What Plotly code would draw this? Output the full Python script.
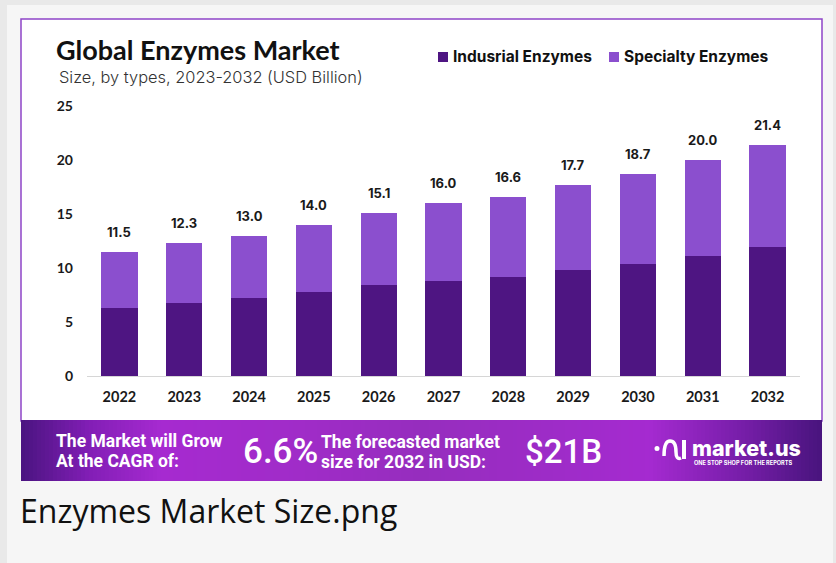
import plotly.graph_objects as go

# ---------------- data ----------------
years = ["2022", "2023", "2024", "2025", "2026", "2027", "2028", "2029", "2030", "2031", "2032"]
industrial = [6.3, 6.8, 7.2, 7.8, 8.4, 8.8, 9.2, 9.8, 10.4, 11.1, 11.9]
specialty = [5.2, 5.5, 5.8, 6.2, 6.7, 7.2, 7.4, 7.9, 8.3, 8.9, 9.5]
totals = [11.5, 12.3, 13.0, 14.0, 15.1, 16.0, 16.6, 17.7, 18.7, 20.0, 21.4]
y_ticks = [0, 5, 10, 15, 20, 25]
series_names = ["Indusrial Enzymes", "Specialty Enzymes"]
title_text = "Global Enzymes Market"
subtitle_text = "Size, by types, 2023-2032 (USD Billion)"
cagr_text = "6.6%"
forecast_text = "$21B"
caption_text = "Enzymes Market Size.png"

# ---------------- style ----------------
C_IND = "#4e1582"
C_SPE = "#8b4fce"
W, H = 836, 563
L, R, T, B = 87, 36, 106, 187
PW, PH = W - L - R, H - T - B
Y0 = H - B


def px(x):
    return (x - L) / PW


def py(y):
    return (Y0 - y) / PH


fig = go.Figure()
fig.add_trace(go.Bar(x=years, y=industrial, name=series_names[0], marker=dict(color=C_IND, line=dict(width=0)),
                     showlegend=False, hoverinfo="x+y+name"))
fig.add_trace(go.Bar(x=years, y=specialty, name=series_names[1], marker=dict(color=C_SPE, line=dict(width=0)),
                     showlegend=False, hoverinfo="x+y+name"))

shapes = []
annotations = []

# outer frame and card
shapes.append(dict(type="rect", xref="paper", yref="paper", x0=px(0), x1=px(7), y0=py(H), y1=py(0),
                   fillcolor="#e9e9e9", line=dict(width=0), layer="below"))
shapes.append(dict(type="rect", xref="paper", yref="paper", x0=px(0), x1=px(W), y0=py(5), y1=py(0),
                   fillcolor="#e9e9e9", line=dict(width=0), layer="below"))
shapes.append(dict(type="rect", xref="paper", yref="paper", x0=px(833), x1=px(W), y0=py(H), y1=py(0),
                   fillcolor="#e9e9e9", line=dict(width=0), layer="below"))
shapes.append(dict(type="rect", xref="paper", yref="paper", x0=px(21), x1=px(822), y0=py(421), y1=py(19),
                   fillcolor="white", line=dict(color="#8e44c8", width=1.5), layer="below"))

# banner gradient
stops = [(21, (74, 20, 128)), (90, (130, 30, 182)), (160, (166, 42, 208)), (300, (160, 44, 200)),
         (420, (150, 45, 190)), (560, (158, 44, 200)), (650, (165, 42, 208)), (740, (120, 30, 170)),
         (822, (72, 20, 125))]


def grad(x):
    for (xa, ca), (xb, cb) in zip(stops[:-1], stops[1:]):
        if xa <= x <= xb:
            t = (x - xa) / (xb - xa)
            return "rgb(%d,%d,%d)" % tuple(round(a + (b - a) * t) for a, b in zip(ca, cb))
    return "rgb(%d,%d,%d)" % stops[-1][1]


step = 4
x = 21
while x < 822:
    x2 = min(x + step, 822)
    shapes.append(dict(type="rect", xref="paper", yref="paper", x0=px(x), x1=px(min(x2 + 0.6, 822)),
                       y0=py(481), y1=py(420),
                       fillcolor=grad(x + step / 2), line=dict(width=0), layer="above"))
    x = x2

# legend squares
shapes.append(dict(type="rect", xref="paper", yref="paper", x0=px(438), x1=px(448), y0=py(62), y1=py(52),
                   fillcolor=C_IND, line=dict(width=0)))
shapes.append(dict(type="rect", xref="paper", yref="paper", x0=px(609), x1=px(619), y0=py(62), y1=py(52),
                   fillcolor=C_SPE, line=dict(width=0)))

# logo icon (approximate)
shapes.append(dict(type="circle", xref="paper", yref="paper", x0=px(654.5), x1=px(659.5), y0=py(451), y1=py(446),
                   fillcolor="white", line=dict(width=0), layer="above"))
shapes.append(dict(type="path", xref="paper", yref="paper",
                   path="M %f,%f Q %f,%f %f,%f Q %f,%f %f,%f Q %f,%f %f,%f" % (
                       px(664), py(456), px(664), py(441), px(670), py(441),
                       px(676), py(441), px(676), py(452),
                       px(676), py(460), px(681), py(458)),
                   line=dict(color="white", width=3.5), layer="above"))
shapes.append(dict(type="rect", xref="paper", yref="paper", x0=px(682), x1=px(686), y0=py(459), y1=py(440),
                   fillcolor="white", line=dict(width=0), layer="above"))


def ann(text, x, y, size, family, color="#111111", weight="normal", xanchor="left", yanchor="middle"):
    annotations.append(dict(text=text, x=px(x), y=py(y), xref="paper", yref="paper", showarrow=False,
                            xanchor=xanchor, yanchor=yanchor,
                            font=dict(size=size, family=family, color=color, weight=weight)))


# titles
ann(title_text, 54, 50, 27, "Lato", "#111111", 700)
ann(subtitle_text, 57, 77, 16.4, "Inter", "#333333", 300)
ann(series_names[0], 451, 57, 15.5, "Inter", "#111111", 700)
ann(series_names[1], 622, 57, 15.5, "Inter", "#111111", 700)

# banner texts
ann("The Market will Grow", 54, 441, 17.5, "Roboto", "white", 700)
ann("At the CAGR of:", 54, 461, 17.5, "Roboto", "white", 700)
ann(cagr_text, 241, 451, 35, "Roboto", "white", 500)
ann("The forecasted market", 319, 442, 17.5, "Roboto", "white", 700)
ann("size for 2032 in USD:", 319, 462, 17.5, "Roboto", "white", 700)
ann(forecast_text, 523, 451, 33, "Roboto", "white", 500)
ann("market.us", 690, 448, 21.5, "Inter", "white", 800)
ann("ONE STOP SHOP FOR THE REPORTS", 692, 463, 5.6, "Inter", "white", 700)

# caption
ann(caption_text, 18, 510, 32, "Open Sans", "#111111", 400)

# value labels (x given as category index)
for i, tot in enumerate(totals):
    annotations.append(dict(text="%.1f" % tot, x=i, y=tot, xref="x", yref="y", showarrow=False,
                            xanchor="center", yanchor="bottom", yshift=10,
                            font=dict(size=13, family="Inter", color="#1a1a1a", weight=700)))

fig.update_layout(
    width=W, height=H,
    margin=dict(l=L, r=R, t=T, b=B, pad=0),
    paper_bgcolor="#f6f6f6", plot_bgcolor="rgba(0,0,0,0)",
    barmode="stack", bargap=0.44,
    shapes=shapes, annotations=annotations,
    xaxis=dict(type="category", range=[-0.5, len(years) - 0.5], autorange=False,
               showgrid=False, showline=True, linecolor="#d6d6d6", linewidth=1,
               ticks="", ticklabelstandoff=8, zeroline=False,
               tickfont=dict(size=14.5, family="Lato", color="#1a1a1a", weight=700)),
    yaxis=dict(range=[0, 25], autorange=False, tickvals=y_ticks, showgrid=False, showline=False, zeroline=False,
               ticks="", ticklabelstandoff=13,
               tickfont=dict(size=14, family="Lato", color="#1a1a1a", weight=700)),
    showlegend=False,
)

fig.write_html("out.html", config={"displayModeBar": False},
               post_script="document.body.style.margin='0';document.body.style.overflow='hidden';")
